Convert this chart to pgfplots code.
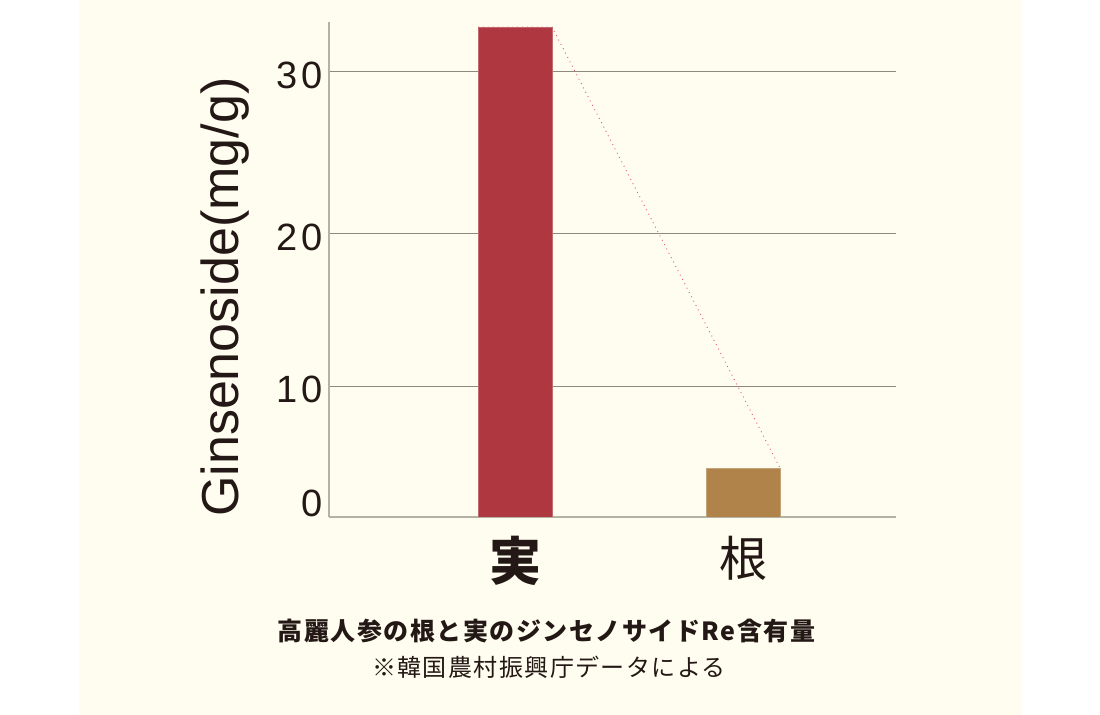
\documentclass[border=0pt]{standalone}
\usepackage{fontspec}
\usepackage{pgfplots}
\pgfplotsset{compat=1.18}
\setmainfont{Liberation Sans}
\newfontfamily\tickfont{Liberation Sans}[LetterSpace=10]
\newfontfamily\jp{Noto Sans CJK JP}
\newfontfamily\jpspaced{Noto Sans CJK JP}[LetterSpace=6]

\definecolor{cream}{HTML}{FFFDEF}
\definecolor{fruitred}{HTML}{AF3840}
\definecolor{rootbrown}{HTML}{B0834A}
\definecolor{inkdark}{HTML}{231815}
\definecolor{gridgray}{HTML}{8E897E}
\definecolor{spinegray}{HTML}{B5B1A3}
\definecolor{dotpink}{HTML}{E8546E}

\begin{document}
\begin{tikzpicture}
% background: white margins, cream panel
\fill[white] (0,0) rectangle (550pt,357.5pt);
\fill[cream] (39.5pt,0) rectangle (511pt,357.5pt);

\begin{axis}[
    at={(164.5pt,99pt)}, anchor=south west,
    width=283.5pt, height=247.5pt, scale only axis,
    xmin=-0.816, xmax=1.671,
    ymin=0, ymax=33.37,
    axis x line=bottom, axis y line=left,
    axis line style={-, draw=spinegray, line width=0.6pt},
    major tick length=0pt,
    xtick={0,1},
    xticklabels={{\jp\bfseries\fontsize{26}{26}\selectfont 実},{\jp\fontsize{24}{24}\selectfont 根}},
    xticklabel style={text=inkdark, yshift=-6pt},
    ytick={8.83,19.08,30},
    yticklabels={10,20,30},
    extra y ticks={1.15},
    extra y tick labels={0},
    extra y tick style={grid=none},
    yticklabel style={text=inkdark, font=\tickfont\fontsize{19}{19}\selectfont,
        inner sep=0pt, xshift=-3pt, yshift=-1.5pt},
    ymajorgrids,
    major grid style={draw=gridgray, line width=0.5pt},
    ylabel={Ginsenoside(mg/g)},
    ylabel style={at={(axis description cs:-0.183,0.444)}, anchor=center,
        text=inkdark, font=\fontsize{26}{26}\selectfont},
]
% 実 (fruit)
\addplot[ybar, bar shift=0pt, bar width=0.3246, fill=fruitred,
    draw=fruitred!75!white, line width=0.4pt] coordinates {(0,33.03)};
% 根 (root)
\addplot[ybar, bar shift=0pt, bar width=0.3246, fill=rootbrown,
    draw=rootbrown!75!white, line width=0.4pt] coordinates {(1,3.30)};
% dotted guide from the fruit bar to the root bar
\addplot[draw=dotpink, dotted, line width=0.45pt] coordinates
    {(-0.1623,33.03) (0.1623,33.03) (1.1623,3.30)};
\end{axis}

\node[text=inkdark, font=\jpspaced\bfseries\fontsize{12.5}{12.5}\selectfont]
    at (273.3pt,42pt) {高麗人参の根と実のジンセノサイドRe含有量};
\node[text=inkdark, font=\jpspaced\fontsize{12}{12}\selectfont]
    at (274.5pt,24pt) {※韓国農村振興庁データによる};
\end{tikzpicture}
\end{document}
